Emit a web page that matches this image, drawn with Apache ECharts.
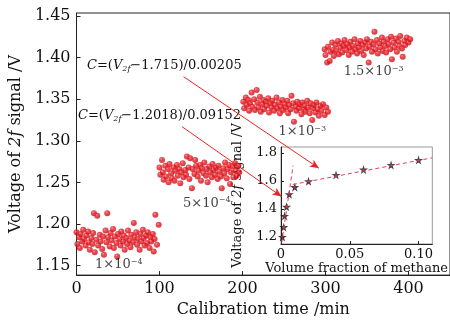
<!DOCTYPE html>
<html>
<head>
<meta charset="utf-8">
<script src="https://cdn.jsdelivr.net/npm/echarts@6/dist/echarts.min.js"></script>
<style>
html, body { margin: 0; padding: 0; background: #fff; }
#main { width: 450px; height: 323px; }
</style>
</head>
<body>
<div id="main"></div>
<script>
// calibration time (min) and 2f signal (V) for each methane concentration
var t1 = [0,1,3,4,5,7,8,9,11,12,14,15,16,18,19,20,21,22,24,25,26,28,29,31,32,33,35,36,37,38,40,41,42,44,45,46,48,49,50,52,53,54,56,57,58,60,61,62,64,65,66,68,69,70,72,73,74,76,77,78,80,81,82,84,85,86,88,89,90,92,93,94,95,97,99];
var v1 = [1.190,1.176,1.184,1.171,1.188,1.179,1.193,1.182,1.174,1.186,1.191,1.178,1.169,1.183,1.176,1.189,1.213,1.166,1.181,1.210,1.174,1.187,1.179,1.170,1.185,1.163,1.192,1.178,1.213,1.184,1.173,1.189,1.180,1.194,1.171,1.185,1.177,1.161,1.188,1.182,1.174,1.191,1.179,1.186,1.169,1.183,1.176,1.192,1.180,1.172,1.187,1.178,1.201,1.184,1.190,1.175,1.182,1.169,1.188,1.179,1.193,1.183,1.174,1.186,1.177,1.190,1.171,1.184,1.179,1.188,1.167,1.182,1.211,1.175,1.199];

var t2 = [100,101,103,104,105,107,108,110,111,112,114,115,117,118,119,121,122,124,125,126,128,129,131,132,133,135,136,137,139,140,142,143,144,146,147,149,150,151,153,154,156,157,158,160,161,163,164,165,167,168,170,171,172,174,175,177,178,179,181,182,184,185,186,188,189,191,192,193,195,196];
var v2 = [1.268,1.259,1.277,1.262,1.253,1.270,1.257,1.266,1.250,1.272,1.261,1.255,1.268,1.252,1.264,1.271,1.258,1.266,1.249,1.262,1.273,1.256,1.265,1.259,1.281,1.268,1.254,1.279,1.243,1.266,1.260,1.277,1.270,1.257,1.264,1.271,1.252,1.267,1.261,1.274,1.258,1.266,1.250,1.269,1.262,1.256,1.272,1.265,1.259,1.268,1.254,1.270,1.263,1.257,1.243,1.267,1.261,1.274,1.255,1.266,1.271,1.248,1.262,1.269,1.256,1.273,1.264,1.258,1.270,1.262];

var t3 = [201,202,204,205,207,208,209,211,212,214,215,217,218,219,221,222,224,225,226,228,229,231,232,234,235,236,238,239,241,242,244,245,246,248,249,251,252,254,255,256,258,259,261,262,264,265,266,268,269,271,272,274,275,276,278,279,281,282,284,285,286,288,289,291,292,294,295,297,299,301,303];
var v3 = [1.347,1.339,1.352,1.343,1.349,1.336,1.345,1.358,1.341,1.350,1.337,1.361,1.346,1.340,1.353,1.335,1.344,1.349,1.338,1.347,1.342,1.351,1.334,1.345,1.340,1.348,1.336,1.343,1.352,1.339,1.346,1.333,1.341,1.349,1.337,1.344,1.340,1.348,1.333,1.343,1.338,1.354,1.345,1.323,1.341,1.336,1.347,1.339,1.344,1.332,1.346,1.338,1.342,1.335,1.348,1.340,1.333,1.345,1.325,1.339,1.343,1.334,1.346,1.338,1.330,1.342,1.336,1.344,1.331,1.340,1.335];

var t4 = [299,300,302,303,305,306,308,309,310,312,313,315,316,318,319,320,322,323,325,326,328,329,330,332,333,335,336,338,339,340,342,343,345,346,348,349,350,352,353,355,356,358,359,360,362,363,365,366,368,369,370,372,373,375,376,378,379,380,382,383,385,386,388,389,390,392,393,395,396,398,400,402];
var v4 = [1.410,1.403,1.394,1.413,1.396,1.407,1.418,1.409,1.402,1.415,1.408,1.420,1.404,1.412,1.417,1.406,1.414,1.421,1.409,1.416,1.403,1.412,1.419,1.407,1.414,1.422,1.410,1.405,1.417,1.412,1.420,1.408,1.415,1.403,1.418,1.411,1.422,1.394,1.413,1.419,1.407,1.416,1.431,1.410,1.421,1.405,1.417,1.412,1.424,1.408,1.419,1.414,1.406,1.422,1.416,1.410,1.425,1.398,1.418,1.412,1.423,1.407,1.419,1.414,1.426,1.411,1.401,1.420,1.415,1.424,1.418,1.422];

// concentration labels and where they sit (main axes units)
var concLabels = ['1×10{s|−4}', '5×10{s|−4}', '1×10{s|−3}', '1.5×10{s|−3}'];
var concLabelAt = [[51, 1.151], [157, 1.225], [272, 1.311], [358, 1.383]];

// arrows from the fitted formulas into the inset (main axes units)
var arrows = [
  [[129, 1.377], [292, 1.267]],
  [[127, 1.317], [247, 1.233]]
];

// inset: volume fraction vs 2f signal
var fraction = [0.001, 0.002, 0.0026, 0.004, 0.006, 0.01, 0.02, 0.04, 0.06, 0.08, 0.10];
var signal = [1.201, 1.271, 1.351, 1.416, 1.505, 1.556, 1.598, 1.643, 1.681, 1.714, 1.749];
var fitLow = [[0.0005, 1.16], [0.0088, 1.71]];
var fitHigh = [[0.0086, 1.575], [0.11, 1.765]];

var mainYTicks = [1.15, 1.20, 1.25, 1.30, 1.35, 1.40, 1.45];
var mainXTicks = [0, 100, 200, 300, 400];
var insetXTicks = [0, 0.05, 0.10];
var insetYTicks = [1.2, 1.4, 1.6, 1.8];

var FONT = 'DejaVu Serif';

function pairs(ts, vs) {
  return ts.map(function (t, i) { return [t, vs[i]]; });
}

var ball = new echarts.graphic.RadialGradient(0.38, 0.35, 0.65, [
  { offset: 0, color: '#ff8080' },
  { offset: 0.35, color: '#ea1e26' },
  { offset: 1, color: '#c4101a' }
]);

function cluster(ts, vs) {
  return {
    type: 'scatter',
    xAxisIndex: 0,
    yAxisIndex: 0,
    symbolSize: 6,
    itemStyle: { color: ball },
    data: pairs(ts, vs)
  };
}

var myChart = echarts.init(document.getElementById('main'));

myChart.setOption({
  animation: false,
  textStyle: { fontFamily: FONT, color: '#111' },
  grid: [
    { left: 74, top: 13, width: 376, height: 265, show: true, borderColor: '#222', borderWidth: 1 },
    { left: 281, top: 147, width: 154, height: 97, show: true, borderColor: '#999', borderWidth: 1, backgroundColor: '#fff' }
  ],
  xAxis: [{
    gridIndex: 0,
    type: 'value',
    min: 0,
    max: 450,
    name: 'Calibration time /min',
    nameLocation: 'middle',
    nameGap: 21,
    nameTextStyle: { fontFamily: FONT, fontSize: 16, color: '#111' },
    axisLine: { lineStyle: { color: '#222' } },
    axisTick: { inside: true, length: 4, customValues: mainXTicks, lineStyle: { color: '#222' } },
    axisLabel: { customValues: mainXTicks, margin: 6, fontFamily: FONT, fontSize: 16, color: '#111' },
    splitLine: { show: false }
  }, {
    gridIndex: 1,
    type: 'value',
    min: 0,
    max: 0.11,
    name: 'Volume fraction of methane',
    nameLocation: 'middle',
    nameGap: 17,
    nameTextStyle: { fontFamily: FONT, fontSize: 13, color: '#111' },
    axisLine: { lineStyle: { color: '#222' } },
    axisTick: { inside: true, length: 3, customValues: insetXTicks, lineStyle: { color: '#222' } },
    axisLabel: {
      customValues: insetXTicks, margin: 4, fontFamily: FONT, fontSize: 13, color: '#111',
      formatter: function (v) { return v === 0 ? '0' : v.toFixed(2); }
    },
    splitLine: { show: false }
  }],
  yAxis: [{
    gridIndex: 0,
    type: 'value',
    min: 1.1385,
    max: 1.4536,
    name: 'Voltage of {i|2f} signal /V',
    nameLocation: 'middle',
    nameGap: 50,
    nameTextStyle: {
      fontFamily: FONT, fontSize: 16, color: '#111',
      rich: { i: { fontFamily: FONT, fontSize: 16, fontStyle: 'italic', color: '#111' } }
    },
    axisLine: { lineStyle: { color: '#222' } },
    axisTick: { inside: true, length: 4, customValues: mainYTicks, lineStyle: { color: '#222' } },
    axisLabel: {
      customValues: mainYTicks, margin: 6, fontFamily: FONT, fontSize: 16, color: '#111',
      formatter: function (v) { return v.toFixed(2); }
    },
    splitLine: { show: false }
  }, {
    gridIndex: 1,
    type: 'value',
    min: 1.151,
    max: 1.842,
    name: 'Voltage of {i|2f} signal /V',
    nameLocation: 'middle',
    nameGap: 37,
    nameTextStyle: {
      fontFamily: FONT, fontSize: 13, color: '#111',
      rich: { i: { fontFamily: FONT, fontSize: 13, fontStyle: 'italic', color: '#111' } }
    },
    axisLine: { lineStyle: { color: '#222' } },
    axisTick: { inside: true, length: 3, customValues: insetYTicks, lineStyle: { color: '#222' } },
    axisLabel: {
      customValues: insetYTicks, margin: 4, fontFamily: FONT, fontSize: 13, color: '#111',
      formatter: function (v) { return v.toFixed(1); }
    },
    splitLine: { show: false }
  }],
  graphic: [{
    type: 'text',
    left: 87,
    top: 59,
    style: {
      text: '{i|C}=({i|V}{sub|2f}−1.715)/0.00205',
      font: '13px ' + FONT,
      fill: '#111',
      rich: {
        i: { fontFamily: FONT, fontSize: 13, fontStyle: 'italic' },
        sub: { fontFamily: FONT, fontSize: 8, fontStyle: 'italic', verticalAlign: 'bottom', padding: [7, 0, 0, 0] }
      }
    }
  }, {
    type: 'text',
    left: 78,
    top: 109,
    style: {
      text: '{i|C}=({i|V}{sub|2f}−1.2018)/0.09152',
      font: '13px ' + FONT,
      fill: '#111',
      rich: {
        i: { fontFamily: FONT, fontSize: 13, fontStyle: 'italic' },
        sub: { fontFamily: FONT, fontSize: 8, fontStyle: 'italic', verticalAlign: 'bottom', padding: [7, 0, 0, 0] }
      }
    }
  }],
  series: [
    cluster(t1, v1),
    cluster(t2, v2),
    cluster(t3, v3),
    cluster(t4, v4),
    {
      // concentration labels + arrows
      type: 'scatter',
      xAxisIndex: 0,
      yAxisIndex: 0,
      symbolSize: 0,
      z: 5,
      label: {
        show: true,
        position: 'inside',
        fontFamily: FONT,
        fontSize: 13,
        color: '#111',
        formatter: function (p) { return concLabels[p.dataIndex]; },
        rich: {
          s: { fontFamily: FONT, fontSize: 8, verticalAlign: 'top', padding: [0, 0, 6, 0] }
        }
      },
      data: concLabelAt,
      markLine: {
        silent: true,
        symbol: ['none', 'arrow'],
        symbolSize: [6, 9],
        label: { show: false },
        lineStyle: { color: '#ee2222', width: 1, type: 'solid' },
        data: arrows.map(function (a) { return [{ coord: a[0] }, { coord: a[1] }]; })
      }
    },
    {
      type: 'line',
      xAxisIndex: 1,
      yAxisIndex: 1,
      showSymbol: false,
      lineStyle: { color: '#d9435f', width: 1, type: [4, 3] },
      data: fitLow
    },
    {
      type: 'line',
      xAxisIndex: 1,
      yAxisIndex: 1,
      showSymbol: false,
      lineStyle: { color: '#d9435f', width: 1, type: [4, 3] },
      data: fitHigh
    },
    {
      type: 'scatter',
      xAxisIndex: 1,
      yAxisIndex: 1,
      symbol: 'path://M50,0 L61,35 L98,35 L68,57 L79,91 L50,70 L21,91 L32,57 L2,35 L39,35 Z',
      symbolSize: 9,
      itemStyle: { color: '#111' },
      data: pairs(fraction, signal)
    },
    {
      type: 'scatter',
      xAxisIndex: 1,
      yAxisIndex: 1,
      symbolSize: 2.5,
      itemStyle: { color: '#c0303a' },
      data: pairs(fraction, signal)
    }
  ]
});
</script>
</body>
</html>
